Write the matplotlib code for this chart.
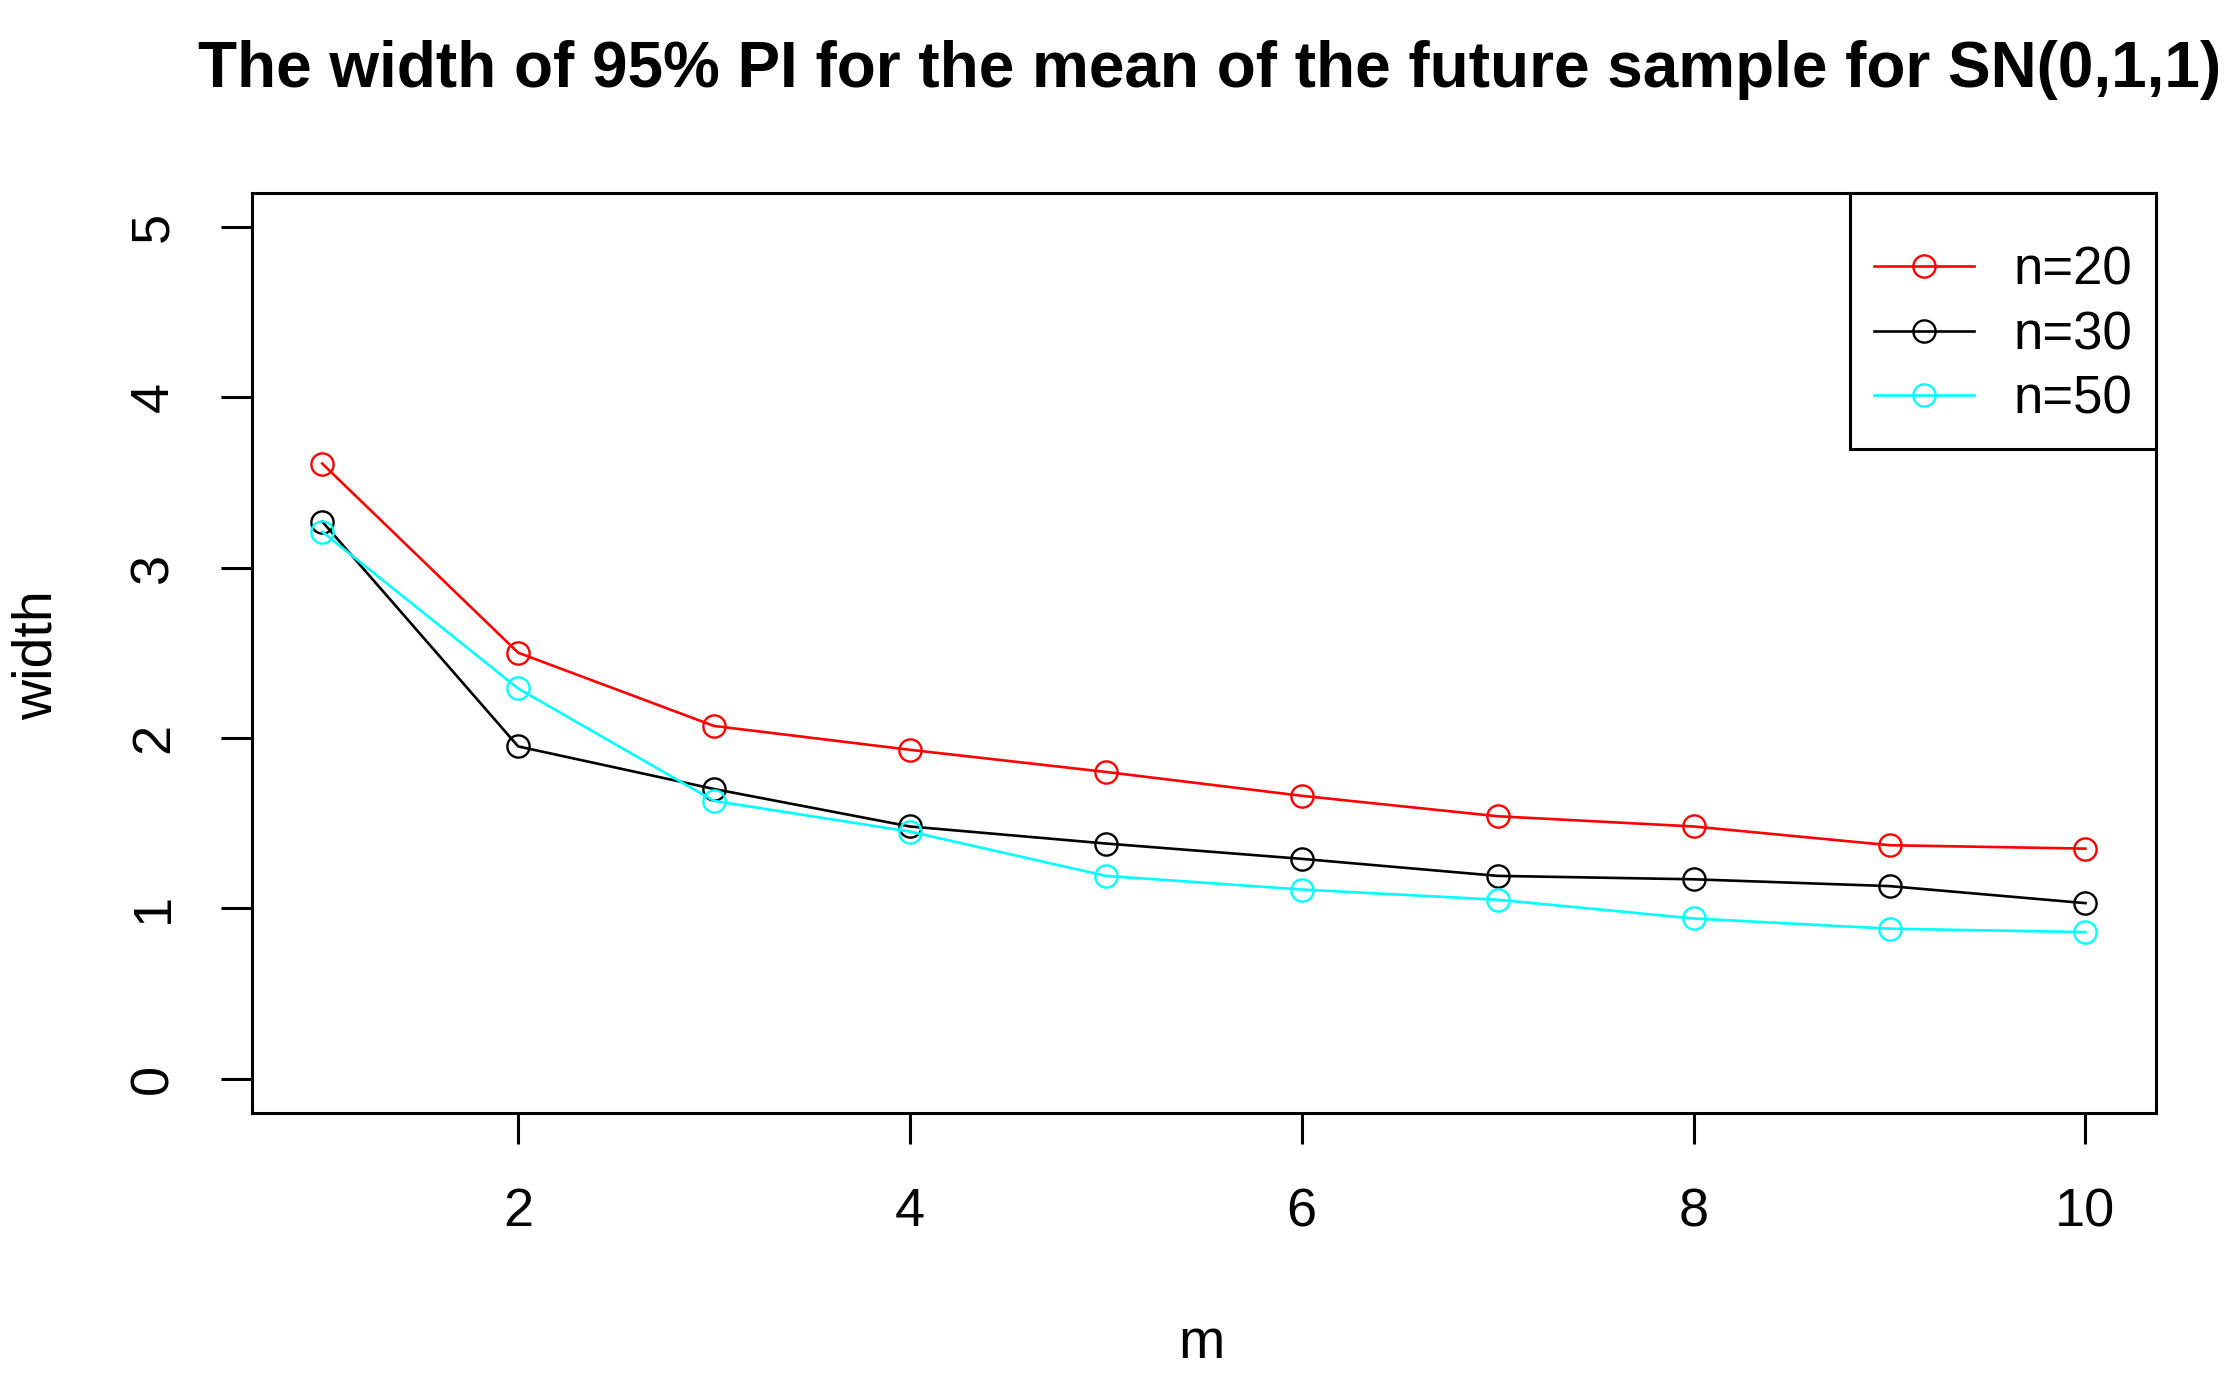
import matplotlib
matplotlib.use("Agg")
import matplotlib.pyplot as plt

plt.rcParams['font.family'] = ['Liberation Sans', 'DejaVu Sans']

m = [1, 2, 3, 4, 5, 6, 7, 8, 9, 10]
width_n20 = [3.61, 2.50, 2.07, 1.93, 1.80, 1.66, 1.54, 1.48, 1.37, 1.35]
width_n30 = [3.27, 1.95, 1.70, 1.48, 1.38, 1.29, 1.19, 1.17, 1.13, 1.03]
width_n50 = [3.21, 2.29, 1.63, 1.45, 1.19, 1.11, 1.05, 0.94, 0.88, 0.86]
labels = ["n=20", "n=30", "n=50"]
colors = ["#FF0000", "#000000", "#00FFFF"]
xticks = [2, 4, 6, 8, 10]
yticks = [0, 1, 2, 3, 4, 5]

W, H = 2229, 1378
fig = plt.figure(figsize=(W / 100, H / 100), dpi=100)
ax = fig.add_axes([251.7 / W, 1 - 1112.7 / H, (2156 - 251.7) / W, (1112.7 - 192.7) / H])

for ys, c, lab in zip([width_n20, width_n30, width_n50], colors, labels):
    ax.plot(m, ys, color=c, lw=1.9, marker='o', markersize=16, markerfacecolor='none',
            markeredgecolor=c, markeredgewidth=1.7, label=lab)

ax.set_xlim(0.64, 10.36)
ax.set_ylim(-0.2, 5.2)
ax.set_xticks(xticks)
ax.set_yticks(yticks)
ax.set_xticklabels([str(v) for v in xticks])
ax.set_yticklabels([str(v) for v in yticks], rotation=90, va='center')

for s in ax.spines.values():
    s.set_linewidth(2.2)
ax.tick_params(axis='both', length=22.5, width=2.2, labelsize=39, color='black')
ax.tick_params(axis='y', pad=30)
ax.tick_params(axis='x', pad=31)

leg = ax.legend(loc='upper right', borderaxespad=0, fontsize=38, fancybox=False,
                framealpha=1, edgecolor='black', handlelength=1.89, handletextpad=0.75,
                borderpad=0.45, labelspacing=0.28, title=' ', title_fontsize=10)
leg.get_frame().set_linewidth(2.2)

fig.text(1210 / W, 1 - 86.7 / H, "The width of 95% PI for the mean of the future sample for SN(0,1,1)",
         ha='center', va='baseline', fontsize=46, fontweight='bold')
fig.text(1201.7 / W, 1 - 1358 / H, "m", ha='center', va='baseline', fontsize=40)
fig.text(52 / W, 1 - 655 / H, "width", ha='center', va='baseline', fontsize=40,
         rotation=90, rotation_mode='anchor')

fig.savefig("out.png", dpi=100)
